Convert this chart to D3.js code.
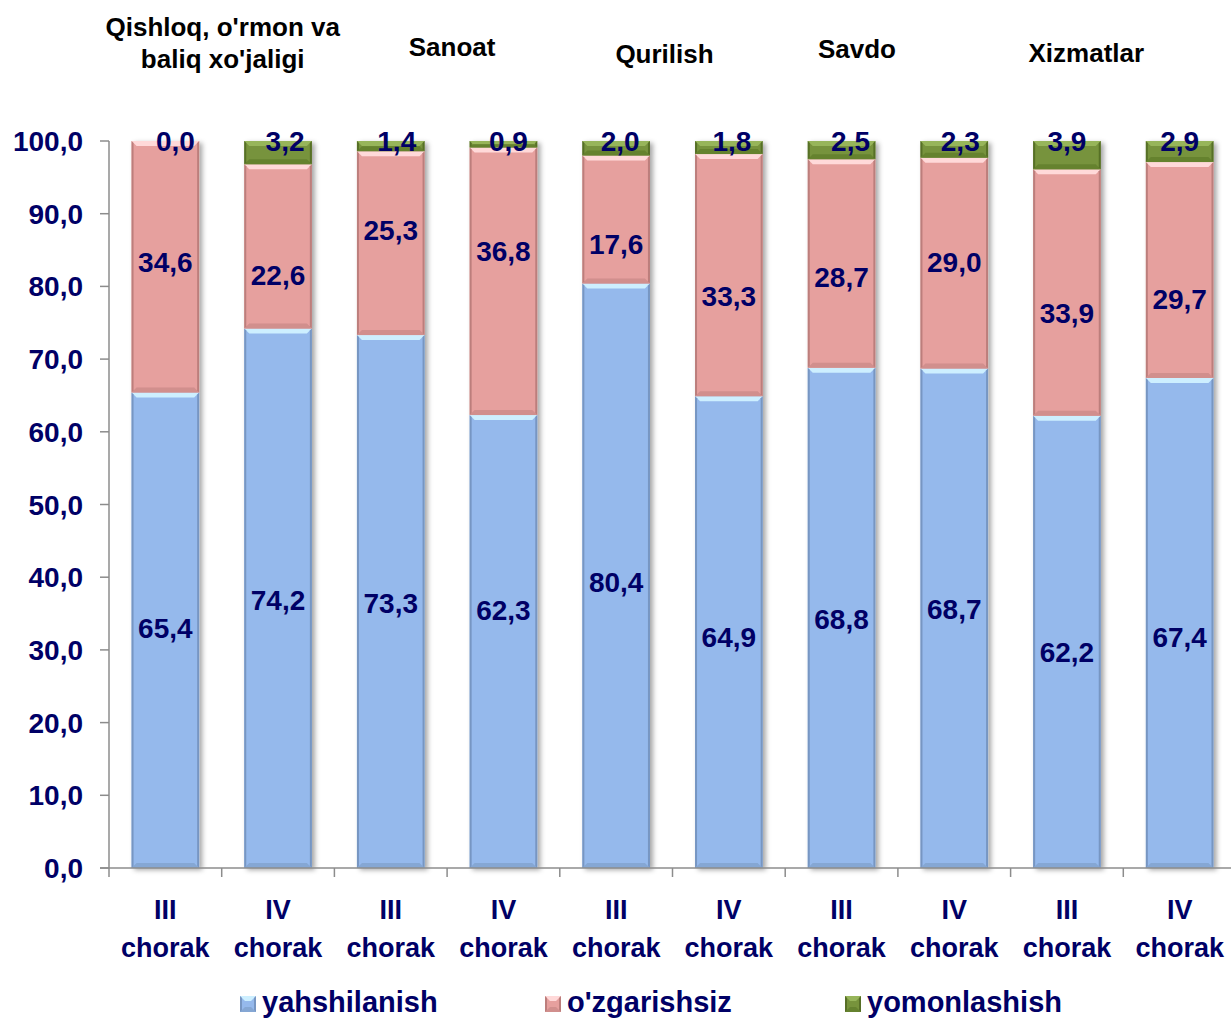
<!DOCTYPE html>
<html><head><meta charset="utf-8">
<script src="https://cdn.jsdelivr.net/npm/d3@7"></script>
<style>
html,body{margin:0;padding:0;background:#fff;}
svg{display:block;font-family:"Liberation Sans",Arial,sans-serif;font-weight:bold;}
</style></head>
<body>
<svg id="chart" width="1231" height="1020"></svg>
<script>
// ---- data ----
const quarters = ["III", "IV", "III", "IV", "III", "IV", "III", "IV", "III", "IV"];
const quarterWord = "chorak";
const sectors = [["Qishloq, o'rmon va", "baliq xo'jaligi"], ["Sanoat"], ["Qurilish"], ["Savdo"], ["Xizmatlar"]];
const seriesNames = ["yahshilanish", "o'zgarishsiz", "yomonlashish"];
const improved  = [65.4, 74.2, 73.3, 62.3, 80.4, 64.9, 68.8, 68.7, 62.2, 67.4];
const unchanged = [34.6, 22.6, 25.3, 36.8, 17.6, 33.3, 28.7, 29.0, 33.9, 29.7];
const worsened  = [0.0, 3.2, 1.4, 0.9, 2.0, 1.8, 2.5, 2.3, 3.9, 2.9];
const yTicks = [0, 10, 20, 30, 40, 50, 60, 70, 80, 90, 100];

// ---- layout (label nudges in px, not data) ----
const nudgeImproved  = [-2, 2, 1, -32, 6, 5, 1, -9, 10, 14];
const nudgeUnchanged = [-5, 29, -13, -30, 24, 21, 13, -1, 20, 29];
const nudgeWorsenedX = [10, 7, 6, 5, 4, 3, 9, 6, 0, 0];
const titleNudge = [[1, 36], [5, 56], [-8, 63], [-41, 58], [-37, 62]];

const navy = "#000066";
const fmt = v => v.toFixed(1).replace(".", ",");
const colors = [
  {base:"#95B9EC", top:"#CDEFFF", bot:"#7F9FCB", side:"#6F8DB8"},
  {base:"#E6A09E", top:"#FFD9D9", bot:"#C88786", side:"#B27573"},
  {base:"#77933C", top:"#97B55A", bot:"#5E7A2A", side:"#4F6622"}
];

const svg = d3.select("#chart");
const defs = svg.append("defs");
const f = defs.append("filter").attr("id","sh").attr("x","-20%").attr("y","-5%").attr("width","150%").attr("height","115%");
f.append("feDropShadow").attr("dx",3).attr("dy",2).attr("stdDeviation",2.5).attr("flood-color","#000").attr("flood-opacity",0.35);

const idx = d3.range(quarters.length);
const x = d3.scaleBand().domain(idx).range([109, 1236]).paddingInner(0.4).paddingOuter(0.2);
const y = d3.scaleLinear().domain([0, 100]).range([868, 141]);
const step = x.step();
const x0 = 109;

// stack
const rows = idx.map(i => ({i, a: improved[i], b: unchanged[i], c: worsened[i]}));
const stack = d3.stack().keys(["a","b","c"])(rows);

// bars
function bevelRect(g, bx, by0, by1, w, c) {
  const h = by1 - by0;
  if (h <= 0.5) return;
  const b = Math.min(5, h / 2);
  g.append("rect").attr("x", bx).attr("y", by0).attr("width", w).attr("height", h).attr("fill", c.base);
  g.append("polygon").attr("points", [[bx,by0],[bx+w,by0],[bx+w-b,by0+b],[bx+b,by0+b]].join(" ")).attr("fill", c.top);
  g.append("polygon").attr("points", [[bx,by1],[bx+w,by1],[bx+w-b,by1-b],[bx+b,by1-b]].join(" ")).attr("fill", c.bot).attr("opacity", 0.7);
  g.append("polygon").attr("points", [[bx,by0],[bx+2,by0+2],[bx+2,by1-2],[bx,by1]].join(" ")).attr("fill", c.side).attr("opacity", 0.8);
  g.append("polygon").attr("points", [[bx+w,by0],[bx+w-2,by0+2],[bx+w-2,by1-2],[bx+w,by1]].join(" ")).attr("fill", c.side).attr("opacity", 0.8);
}

const barsG = svg.append("g");
idx.forEach(i => {
  const g = barsG.append("g").attr("filter", "url(#sh)");
  stack.forEach((s, k) => {
    const d = s[i];
    bevelRect(g, x(i), y(d[1]), y(d[0]), x.bandwidth(), colors[k]);
  });
});

// axes
const axisCol = "#8C8C8C";
svg.append("line").attr("x1", x0).attr("x2", x0).attr("y1", y(100)).attr("y2", y(0)).attr("stroke", axisCol).attr("stroke-width", 1.5);
svg.append("line").attr("x1", x0 - 9).attr("x2", 1236).attr("y1", y(0)).attr("y2", y(0)).attr("stroke", axisCol).attr("stroke-width", 1.5);
yTicks.forEach(t => {
  svg.append("line").attr("x1", x0 - 9).attr("x2", x0).attr("y1", y(t)).attr("y2", y(t)).attr("stroke", axisCol).attr("stroke-width", 1.5);
  svg.append("text").attr("x", 83).attr("y", y(t)).attr("dy", "0.36em").attr("text-anchor", "end")
    .attr("font-size", 28).attr("fill", navy).text(fmt(t));
});
d3.range(quarters.length + 1).forEach(j => {
  const tx = x0 + j * step;
  svg.append("line").attr("x1", tx).attr("x2", tx).attr("y1", y(0)).attr("y2", y(0) + 9).attr("stroke", axisCol).attr("stroke-width", 1.5);
});
idx.forEach(i => {
  const cx = x(i) + x.bandwidth() / 2;
  svg.append("text").attr("x", cx).attr("y", 919).attr("text-anchor", "middle").attr("font-size", 27).attr("fill", navy).text(quarters[i]);
  svg.append("text").attr("x", cx).attr("y", 957).attr("text-anchor", "middle").attr("font-size", 27).attr("fill", navy).text(quarterWord);
});

// data labels
idx.forEach(i => {
  const cx = x(i) + x.bandwidth() / 2;
  const sa = stack[0][i], sb = stack[1][i];
  svg.append("text").attr("x", cx).attr("y", y((sa[0] + sa[1]) / 2) + nudgeImproved[i]).attr("dy", "0.36em")
    .attr("text-anchor", "middle").attr("font-size", 28).attr("fill", navy).text(fmt(improved[i]));
  svg.append("text").attr("x", cx).attr("y", y((sb[0] + sb[1]) / 2) + nudgeUnchanged[i]).attr("dy", "0.36em")
    .attr("text-anchor", "middle").attr("font-size", 28).attr("fill", navy).text(fmt(unchanged[i]));
  svg.append("text").attr("x", cx + nudgeWorsenedX[i]).attr("y", y(100)).attr("dy", "0.36em")
    .attr("text-anchor", "middle").attr("font-size", 28).attr("fill", navy).text(fmt(worsened[i]));
});

// sector titles
sectors.forEach((lines, s) => {
  const cx = x0 + (2 * s + 1) * step + titleNudge[s][0];
  const t = svg.append("text").attr("text-anchor", "middle").attr("font-size", 26).attr("fill", "#000");
  lines.forEach((ln, k) => t.append("tspan").attr("x", cx).attr("y", titleNudge[s][1] + k * 32).text(ln));
});

// legend
const legX = [240, 545, 845];
seriesNames.forEach((n, k) => {
  const g = svg.append("g");
  bevelRect(g, legX[k], 996, 1012, 16, colors[k]);
  svg.append("text").attr("x", legX[k] + 22).attr("y", 1012).attr("font-size", 29).attr("fill", navy).text(n);
});
</script>
</body></html>
